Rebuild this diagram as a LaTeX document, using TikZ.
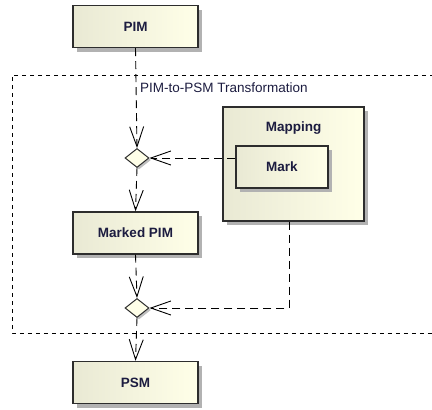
\documentclass[tikz,border=0pt]{standalone}
\usepackage{fontspec}
\setmainfont{Liberation Sans}
\usetikzlibrary{arrows.meta,shapes.geometric,shadows}

\definecolor{boxleft}{RGB}{233,233,212}
\definecolor{boxright}{RGB}{255,255,232}
\definecolor{labeltext}{RGB}{28,28,64}
\definecolor{edgegray}{RGB}{45,45,45}

\begin{document}
\begin{tikzpicture}[x=1pt,y=-1pt,
  elem/.style={draw=edgegray, line width=1.4pt, left color=boxleft, right color=boxright,
    drop shadow={shadow xshift=4pt, shadow yshift=-4pt, fill=black!30, opacity=1},
    font=\fontsize{13.5}{15}\selectfont\bfseries, text=labeltext, inner sep=0pt},
  actbox/.style={elem, minimum width=125pt, minimum height=42pt},
  merge/.style={diamond, draw=edgegray, line width=1pt, fill=boxright, inner sep=0pt,
    minimum width=24pt, minimum height=19pt,
    drop shadow={shadow xshift=2pt, shadow yshift=-2pt, fill=black!25, opacity=1}},
  flow/.style={draw=black, line width=0.9pt, dash pattern=on 8pt off 5pt,
    -{Straight Barb[length=20pt,width=14pt]}}]
\useasboundingbox (0,0) rectangle (432,410);

% frame of the transformation
\draw[line width=0.9pt, dash pattern=on 4pt off 4pt] (434,75) -- (12,75) -- (12,333) -- (434,333);
\node[anchor=west, font=\fontsize{13.5}{15}\selectfont, text=labeltext, inner sep=0pt] (xform) at (140,88) {PIM-to-PSM Transformation};

\foreach \n/\t/\y in {pim/PIM/26.5, mpim/Marked PIM/233, psm/PSM/382.5} {
  \node[actbox] (\n) at (135.5,\y) {\t};
}

\node[elem, minimum width=141pt, minimum height=114pt] (mapping) at (293.5,164) {};
\node[font=\fontsize{13.5}{15}\selectfont\bfseries, text=labeltext, inner sep=0pt] (maplbl) at (293.5,128) {Mapping};
\node[elem, minimum width=92pt, minimum height=42pt] (mark) at (282,167) {Mark};

\node[merge] (d1) at (137,158) {};
\node[merge] (d2) at (137,308) {};

\draw[flow] (pim.south) -- (d1.north);
\draw[flow] (d1.south) -- (mpim.north);
\draw[flow] (mark.west |- d1.east) -- (d1.east);
\draw[flow] (mpim.south) -- (d2.north);
\draw[flow] ([xshift=-4.5pt]mapping.south) |- (d2.east);
\draw[flow] (d2.south) -- (psm.north);
\end{tikzpicture}
\end{document}
